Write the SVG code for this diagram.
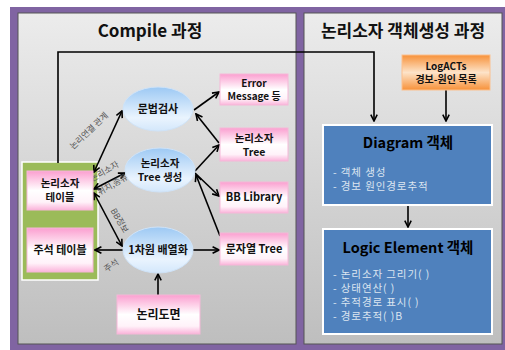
<svg xmlns="http://www.w3.org/2000/svg" width="505" height="350" viewBox="0 0 505 350">
<defs>
<linearGradient id="gPanel" x1="0" y1="0" x2="0" y2="1"><stop offset="0" stop-color="#ececec"/><stop offset="1" stop-color="#bebebe"/></linearGradient>
<linearGradient id="gPink" x1="0" y1="0" x2="0" y2="1"><stop offset="0" stop-color="#fb9fd0"/><stop offset="0.5" stop-color="#ffffff"/><stop offset="0.8" stop-color="#fff2f9"/><stop offset="1" stop-color="#fbb3da"/></linearGradient>
<linearGradient id="gBlue" x1="0" y1="0" x2="0" y2="1"><stop offset="0" stop-color="#9dc9f4"/><stop offset="0.7" stop-color="#eaf4fe"/><stop offset="1" stop-color="#d3e7fb"/></linearGradient>
<linearGradient id="gOrange" x1="0" y1="0" x2="0" y2="1"><stop offset="0" stop-color="#f79139"/><stop offset="0.5" stop-color="#fde3c8"/><stop offset="1" stop-color="#f79139"/></linearGradient>
<marker id="ar" viewBox="0 0 10 10" refX="9" refY="5" markerWidth="8" markerHeight="8" markerUnits="userSpaceOnUse" orient="auto-start-reverse"><path d="M1,1 L9,5 L1,9" fill="none" stroke="#000" stroke-width="2"/></marker>
</defs>
<style>
text{font-family:"Noto Sans CJK KR","Noto Sans",sans-serif;text-anchor:middle}
.t{font-size:17px;font-weight:bold;fill:#111}
.b{font-size:11px;font-weight:bold;fill:#111}
.b2{font-size:10.5px;font-weight:bold;fill:#111}
.s{font-size:10px;font-weight:bold;fill:#111}
.lbl{font-size:8.5px;fill:#555}
.h{font-size:14.5px;font-weight:bold;fill:#000}
.it{font-size:10.5px;fill:#dce5f0;text-anchor:start;letter-spacing:0.9px}
.pk{fill:url(#gPink);stroke:#f5b8d8;stroke-width:1}
.el{fill:url(#gBlue);stroke:#cfe3f8;stroke-width:1}
.bx{fill:#4f81bd;stroke:#fff;stroke-width:2}
.c{fill:none;stroke:#000;stroke-width:1.6}
.ae{marker-end:url(#ar)}
.as{marker-start:url(#ar)}
</style>
<rect x="0" y="0" width="505" height="350" fill="#fff"/>
<rect x="10" y="7" width="495" height="343" fill="#8064a2"/>
<g id="panel-compile">
<rect x="18" y="13" width="278" height="331" fill="url(#gPanel)" stroke="#555" stroke-width="1"/>
<text class="t" x="150" y="37">Compile 과정</text>
</g>
<g id="panel-object">
<rect x="304" y="13" width="198" height="331" fill="url(#gPanel)" stroke="#555" stroke-width="1"/>
<text class="t" x="403" y="37">논리소자 객체생성 과정</text>
</g>
<g id="table-group">
<rect x="22" y="162" width="76" height="118" fill="#9bbb59" stroke="#fff" stroke-width="1.5"/>
</g>
<g id="connectors">
<path class="c" d="M58,163 V52 H374 V121" marker-end="url(#ar)"/>
<line class="c as ae" x1="94" y1="172" x2="122" y2="111"/>
<line class="c as ae" x1="94" y1="189" x2="125" y2="173"/>
<line class="c as ae" x1="94" y1="193" x2="122" y2="246"/>
<line class="c ae" x1="123" y1="250" x2="95" y2="250"/>
<line class="c ae" x1="193" y1="250" x2="219" y2="250"/>
<line class="c ae" x1="158" y1="295" x2="158" y2="274"/>
<line class="c ae" x1="194" y1="110" x2="219" y2="92"/>
<line class="c ae" x1="219" y1="143" x2="196" y2="114"/>
<line class="c ae" x1="195" y1="171" x2="219" y2="145"/>
<line class="c ae" x1="195" y1="173" x2="219" y2="196"/>
<line class="c ae" x1="220" y1="236" x2="196" y2="175"/>
<line class="c ae" x1="446" y1="90" x2="446" y2="121"/>
<line class="c ae" x1="408" y1="206" x2="408" y2="227"/>
<text class="lbl" transform="translate(91,133) rotate(-43.6)">논리연결 관계</text>
<text class="lbl" transform="translate(106,174) rotate(-30)">논리소자</text>
<text class="lbl" transform="translate(114,187) rotate(-30)">위치,종류</text>
<text class="lbl" transform="translate(117,222) rotate(60)">BB정보</text>
<text class="lbl" transform="translate(113,268) rotate(-35)">주석</text>
</g>
<g id="logic-table">
<rect class="pk" x="27" y="171" width="66" height="39"/>
<text class="b2" x="60" y="187">논리소자</text>
<text class="b2" x="60" y="201">테이블</text>
</g>
<g id="comment-table">
<rect class="pk" x="27" y="228" width="66" height="44"/>
<text class="b" x="60" y="254">주석 테이블</text>
</g>
<g id="syntax-check">
<ellipse class="el" cx="158" cy="109" rx="35" ry="22"/>
<text class="b" x="158" y="113">문법검사</text>
</g>
<g id="tree-gen">
<ellipse class="el" cx="160" cy="170" rx="35" ry="22"/>
<text class="b2" x="160" y="167">논리소자</text>
<text class="b2" x="160" y="181">Tree 생성</text>
</g>
<g id="array">
<ellipse class="el" cx="158" cy="250" rx="35" ry="23"/>
<text class="b" x="158" y="254">1차원 배열화</text>
</g>
<g id="error-msg">
<rect class="pk" x="220" y="74" width="68" height="31"/>
<text class="s" x="254" y="86.5">Error</text>
<text class="s" x="254" y="100">Message 등</text>
</g>
<g id="logic-tree">
<rect class="pk" x="220" y="128" width="68" height="33"/>
<text class="b2" x="254" y="142">논리소자</text>
<text class="b2" x="254" y="156">Tree</text>
</g>
<g id="bb-library">
<rect class="pk" x="220" y="182" width="68" height="31"/>
<text class="b" x="254" y="201">BB Library</text>
</g>
<g id="string-tree">
<rect class="pk" x="220" y="233" width="68" height="32"/>
<text class="b" x="254" y="253">문자열 Tree</text>
</g>
<g id="logic-drawing">
<rect class="pk" x="117" y="295" width="83" height="39"/>
<text class="b" x="158.5" y="319" style="font-size:12px">논리도면</text>
</g>
<g id="logacts">
<rect x="402" y="55" width="88" height="35" fill="url(#gOrange)" stroke="#fbc08e" stroke-width="1"/>
<text class="s" x="446" y="69.5">LogACTs</text>
<text class="s" x="446" y="83">경보-원인 목록</text>
</g>
<g id="diagram-obj">
<rect class="bx" x="323" y="125" width="169" height="80"/>
<text class="h" x="408" y="148">Diagram 객체</text>
<text class="it" x="333" y="176">- 객체 생성</text>
<text class="it" x="333" y="190">- 경보 원인경로추적</text>
</g>
<g id="logic-element-obj">
<rect class="bx" x="323" y="229" width="169" height="105"/>
<text class="h" x="408" y="253">Logic Element 객체</text>
<text class="it" x="333" y="278">- 논리소자 그리기( )</text>
<text class="it" x="333" y="292">- 상태연산( )</text>
<text class="it" x="333" y="306">- 추적경로 표시( )</text>
<text class="it" x="333" y="320">- 경로추적( )B</text>
</g>
</svg>
